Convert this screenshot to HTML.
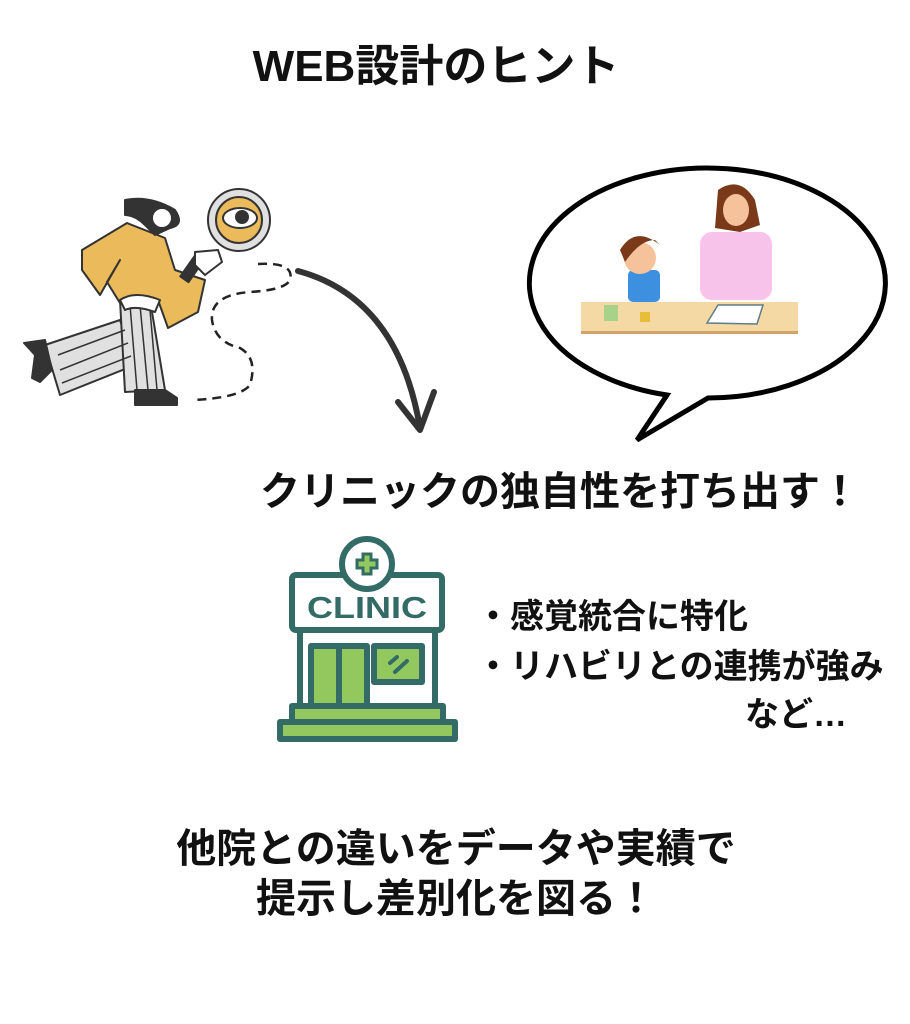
<!DOCTYPE html>
<html><head><meta charset="utf-8"><style>
body{margin:0;background:#fff}
svg{display:block}
text{font-family:"Liberation Sans","Noto Sans CJK JP",sans-serif;font-weight:700;fill:#111}
</style></head><body>
<svg width="910" height="1024" viewBox="0 0 910 1024">
<text x="436" y="81" font-size="44" text-anchor="middle">WEB設計のヒント</text>

<!-- woman -->
<g stroke="#333" stroke-width="2" stroke-linejoin="round">
<path d="M45,345 L120,320 L135,365 L60,395 Z" fill="#e0e0e0"/>
<path d="M120,300 L150,300 L165,390 L125,392 Z" fill="#e0e0e0"/>
<g stroke-width="1.5"><line x1="58" y1="355" x2="125" y2="330"/><line x1="60" y1="370" x2="128" y2="343"/><line x1="62" y1="383" x2="131" y2="356"/><line x1="130" y1="305" x2="137" y2="390"/><line x1="140" y1="305" x2="148" y2="390"/><line x1="150" y1="310" x2="157" y2="390"/></g>
<path d="M24,343 L45,340 L52,370 L40,382 L32,378 L35,355 Z" fill="#333"/>
<path d="M135,390 L165,390 L177,398 L177,405 L135,405 Z" fill="#333"/>
<path d="M82,250 L127,223 L165,238 L175,270 L205,280 L198,312 L168,328 L158,300 L120,303 L107,282 L120,260 L100,295 L82,270 Z" fill="#eaba5b"/>
<path d="M125,200 Q150,195 175,210 Q185,225 170,228 L155,235 L145,225 Q135,215 125,215 Z" fill="#333"/>
<circle cx="162" cy="218" r="10" fill="#fff"/>
<path d="M120,300 Q135,290 160,300 L155,312 Q135,305 125,310 Z" fill="#fff"/>
<rect x="188" y="252" width="10" height="30" fill="#333" transform="rotate(35 193 267)"/>
<path d="M195,252 L218,250 L222,262 L205,275 L195,265 Z" fill="#fff"/>
</g>
<circle cx="239" cy="220" r="31" fill="#e0e0e0" stroke="#333" stroke-width="2"/>
<circle cx="239" cy="220" r="23" fill="#eaba5b" stroke="#333" stroke-width="2"/>
<ellipse cx="240" cy="218" rx="17" ry="10" fill="#fff" stroke="#333" stroke-width="2"/>
<circle cx="242" cy="217" r="7" fill="#333"/>
<path d="M258,264 Q295,262 290,280 Q285,290 250,292 Q210,295 212,320 Q215,342 240,348 Q258,358 250,385 Q240,398 192,400" fill="none" stroke="#222" stroke-width="2.5" stroke-dasharray="9,6"/>
<path d="M298,271 Q398,298 420,428" fill="none" stroke="#333" stroke-width="6" stroke-linecap="round"/>
<path d="M398,402 L420,430 L434,392" fill="none" stroke="#333" stroke-width="6" stroke-linecap="round" stroke-linejoin="round"/>

<!-- bubble -->
<path d="M667,395 A178,115 0 1 1 708,398 L637,440 Z" fill="#fff" stroke="#000" stroke-width="5" stroke-linejoin="miter"/>
<rect x="700" y="232" width="72" height="68" rx="12" fill="#f8c3ea"/>
<path d="M718,190 Q740,175 755,200 L760,225 L740,232 L715,228 Z" fill="#7a3a1a"/>
<ellipse cx="736" cy="210" rx="13" ry="16" fill="#f6c29c"/>
<rect x="628" y="270" width="32" height="32" rx="5" fill="#3d8fe0"/>
<circle cx="640" cy="258" r="16" fill="#f6c29c"/>
<path d="M620,250 Q635,225 660,245 L655,240 Q640,240 625,262 Z" fill="#7a3a1a"/>
<rect x="581" y="302" width="217" height="30" fill="#f5d9a4"/>
<rect x="581" y="331" width="217" height="3" fill="#d2a36c"/>
<rect x="604" y="305" width="14" height="16" fill="#a8d18a"/>
<path d="M707,323 L718,305 L763,305 L757,324 Z" fill="#fff" stroke="#5f7b86" stroke-width="1.5"/>
<rect x="640" y="312" width="10" height="10" fill="#e8bd3a"/>

<text x="560" y="505" font-size="40" text-anchor="middle">クリニックの独自性を打ち出す！</text>

<!-- clinic -->
<g stroke="#336b66" stroke-width="6" stroke-linejoin="round">
<rect x="300" y="628" width="135" height="80" fill="#fff"/>
<rect x="292" y="575" width="150" height="55" rx="4" fill="#fff"/>
<circle cx="367" cy="564" r="25" fill="#fff"/>
<rect x="311" y="646" width="56" height="62" fill="#93c85f"/>
<line x1="339" y1="646" x2="339" y2="708"/>
<rect x="374" y="646" width="48" height="36" fill="#93c85f"/>
<rect x="292" y="706" width="151" height="16" fill="#93c85f"/>
<rect x="280" y="722" width="175" height="17" fill="#93c85f"/>
</g>
<path d="M363,554h8v6h6v8h-6v6h-8v-6h-6v-8h6z" fill="#93c85f" stroke="#336b66" stroke-width="3"/>
<line x1="390" y1="663" x2="397" y2="657" stroke="#336b66" stroke-width="4" stroke-linecap="round"/>
<line x1="395" y1="672" x2="407" y2="661" stroke="#336b66" stroke-width="4" stroke-linecap="round"/>
<text x="367" y="618" font-size="31" text-anchor="middle" style="fill:#336b66;font-weight:900" textLength="120" lengthAdjust="spacingAndGlyphs">CLINIC</text>

<text x="476" y="628" font-size="34">・感覚統合に特化</text>
<text x="476" y="678" font-size="34">・リハビリとの連携が強み</text>
<text x="847" y="726" font-size="34" text-anchor="end">など…</text>

<text x="456" y="862" font-size="40" text-anchor="middle">他院との違いをデータや実績で</text>
<text x="456" y="912" font-size="40" text-anchor="middle">提示し差別化を図る！</text>
</svg>
</body></html>
